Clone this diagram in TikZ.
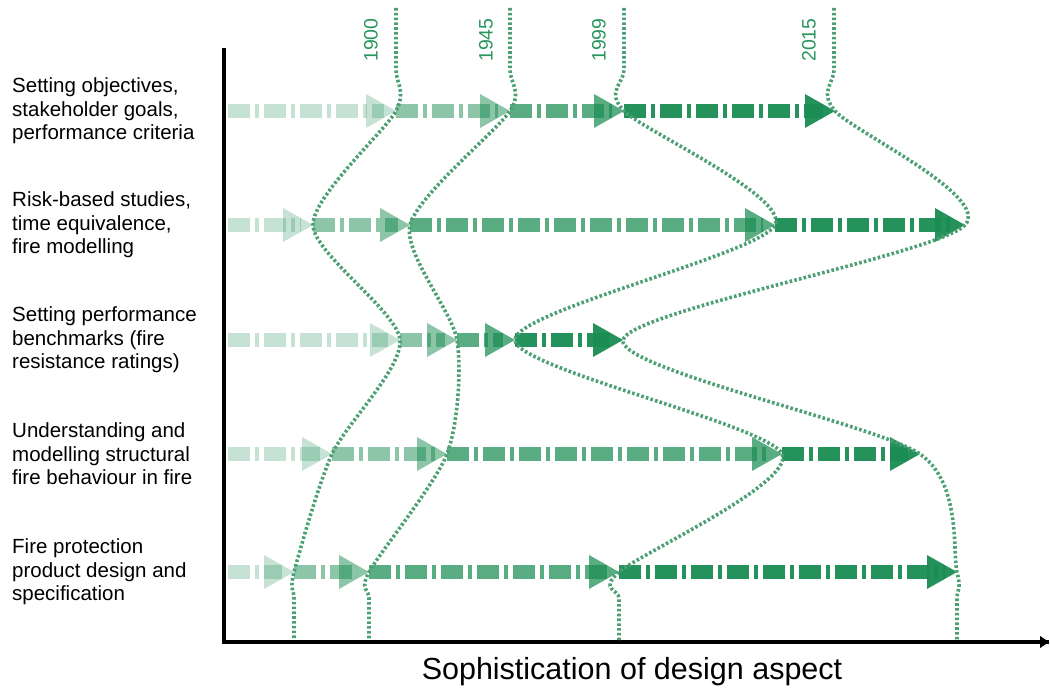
\documentclass[tikz,border=0pt]{standalone}
\usepackage{fontspec}
\setmainfont{Liberation Sans}
\definecolor{fgreen}{RGB}{26,140,82}
\definecolor{dotgreen}{RGB}{76,160,116}
\definecolor{yeargreen}{RGB}{40,150,92}

\begin{document}
\begin{tikzpicture}[x=1pt,y=-1pt]
		\tikzstyle{every node}+=[inner sep=0pt]
		\tikzstyle{flow}=[line width=14pt, dash pattern=on 22pt off 5pt on 4pt off 5pt, shorten >=12pt]
		\tikzstyle{eraA}=[fgreen, opacity=0.25]
		\tikzstyle{eraB}=[fgreen, opacity=0.5]
		\tikzstyle{eraC}=[fgreen, opacity=0.72]
		\tikzstyle{eraD}=[fgreen, opacity=0.95]
		\tikzstyle{eraline}=[dotgreen, line width=3.6pt, dash pattern=on 2.6pt off 2.2pt]
		\tikzstyle{year}=[yeargreen, rotate=90, font=\fontsize{19.5}{22}\selectfont]
		\tikzstyle{task}=[anchor=west, align=left, font=\fontsize{20.5}{23.5}\selectfont]
		\useasboundingbox (0,0) rectangle (1050,692);
		% axes
		\coordinate (ytop) at (224,48);
		\coordinate (o) at (224,642);
		\coordinate (xend) at (1049,642);
		\draw [black, line width=3.5pt, line join=miter] (ytop) -- (o) -- (xend);
		\fill [black] (xend) -- ++(-9,-6) -- ++(0,12) -- cycle;
		\node (xlabel) at (632,672) [font=\fontsize{30.5}{36}\selectfont] {Sophistication of design aspect};
		% row tips
		\coordinate (p10) at (228,111);
		\coordinate (p11) at (396,111);
		\coordinate (p12) at (510,111);
		\coordinate (p13) at (624,111);
		\coordinate (p14) at (835,111);
		\coordinate (p20) at (228,225);
		\coordinate (p21) at (313,225);
		\coordinate (p22) at (410,225);
		\coordinate (p23) at (775,225);
		\coordinate (p24) at (965,225);
		\coordinate (p30) at (228,340);
		\coordinate (p31) at (400,340);
		\coordinate (p32) at (457,340);
		\coordinate (p33) at (515,340);
		\coordinate (p34) at (623,340);
		\coordinate (p40) at (228,454);
		\coordinate (p41) at (332,454);
		\coordinate (p42) at (447,454);
		\coordinate (p43) at (782,454);
		\coordinate (p44) at (920,454);
		\coordinate (p50) at (228,572);
		\coordinate (p51) at (294,572);
		\coordinate (p52) at (369,572);
		\coordinate (p53) at (619,572);
		\coordinate (p54) at (957,572);
		% labels
		\node [task] (task1) at (12,111) {Setting objectives,\\stakeholder goals,\\performance criteria};
		\node [task] (task2) at (12,225) {Risk-based studies,\\time equivalence,\\fire modelling};
		\node [task] (task3) at (12,340) {Setting performance\\benchmarks (fire\\resistance ratings)};
		\node [task] (task4) at (12,454) {Understanding and\\modelling structural\\fire behaviour in fire};
		\node [task] (task5) at (12,572) {Fire protection\\product design and\\specification};
		% row 1
		\draw [flow, eraA] (p10) -- (p11);
		\fill [eraA] (p11) -- ++(-30,-17) -- ++(0,34) -- cycle;
		\draw [flow, eraB] (p11) -- (p12);
		\fill [eraB] (p12) -- ++(-30,-17) -- ++(0,34) -- cycle;
		\draw [flow, eraC] (p12) -- (p13);
		\fill [eraC] (p13) -- ++(-30,-17) -- ++(0,34) -- cycle;
		\draw [flow, eraD] (p13) -- (p14);
		\fill [eraD] (p14) -- ++(-30,-17) -- ++(0,34) -- cycle;
		% row 2
		\draw [flow, eraA] (p20) -- (p21);
		\fill [eraA] (p21) -- ++(-30,-17) -- ++(0,34) -- cycle;
		\draw [flow, eraB] (p21) -- (p22);
		\fill [eraB] (p22) -- ++(-30,-17) -- ++(0,34) -- cycle;
		\draw [flow, eraC] (p22) -- (p23);
		\fill [eraC] (p23) -- ++(-30,-17) -- ++(0,34) -- cycle;
		\draw [flow, eraD] (p23) -- (p24);
		\fill [eraD] (p24) -- ++(-30,-17) -- ++(0,34) -- cycle;
		% row 3
		\draw [flow, eraA] (p30) -- (p31);
		\fill [eraA] (p31) -- ++(-30,-17) -- ++(0,34) -- cycle;
		\draw [flow, eraB] (p31) -- (p32);
		\fill [eraB] (p32) -- ++(-30,-17) -- ++(0,34) -- cycle;
		\draw [flow, eraC] (p32) -- (p33);
		\fill [eraC] (p33) -- ++(-30,-17) -- ++(0,34) -- cycle;
		\draw [flow, eraD] (p33) -- (p34);
		\fill [eraD] (p34) -- ++(-30,-17) -- ++(0,34) -- cycle;
		% row 4
		\draw [flow, eraA] (p40) -- (p41);
		\fill [eraA] (p41) -- ++(-30,-17) -- ++(0,34) -- cycle;
		\draw [flow, eraB] (p41) -- (p42);
		\fill [eraB] (p42) -- ++(-30,-17) -- ++(0,34) -- cycle;
		\draw [flow, eraC] (p42) -- (p43);
		\fill [eraC] (p43) -- ++(-30,-17) -- ++(0,34) -- cycle;
		\draw [flow, eraD] (p43) -- (p44);
		\fill [eraD] (p44) -- ++(-30,-17) -- ++(0,34) -- cycle;
		% row 5
		\draw [flow, eraA] (p50) -- (p51);
		\fill [eraA] (p51) -- ++(-30,-17) -- ++(0,34) -- cycle;
		\draw [flow, eraB] (p51) -- (p52);
		\fill [eraB] (p52) -- ++(-30,-17) -- ++(0,34) -- cycle;
		\draw [flow, eraC] (p52) -- (p53);
		\fill [eraC] (p53) -- ++(-30,-17) -- ++(0,34) -- cycle;
		\draw [flow, eraD] (p53) -- (p54);
		\fill [eraD] (p54) -- ++(-30,-17) -- ++(0,34) -- cycle;
		% era boundaries
		\draw [eraline] plot [smooth, tension=0.45] coordinates {(396,8) (396,70) (p11) (p21) (p31) (p41) (p51) (294,598) (294,640)};
		\draw [eraline] plot [smooth, tension=0.45] coordinates {(510,8) (510,70) (p12) (p22) (p32) (p42) (p52) (369,598) (369,640)};
		\draw [eraline] plot [smooth, tension=0.45] coordinates {(624,8) (624,70) (p13) (p23) (p33) (p43) (p53) (619,598) (619,640)};
		\draw [eraline] plot [smooth, tension=0.45] coordinates {(834,8) (834,70) (p14) (p24) (p34) (p44) (p54) (957,598) (957,640)};
		\node [year] (y1900) at (371,40) {1900};
		\node [year] (y1945) at (486,40) {1945};
		\node [year] (y1999) at (599,40) {1999};
		\node [year] (y2015) at (809,40) {2015};
\end{tikzpicture}
\end{document}
